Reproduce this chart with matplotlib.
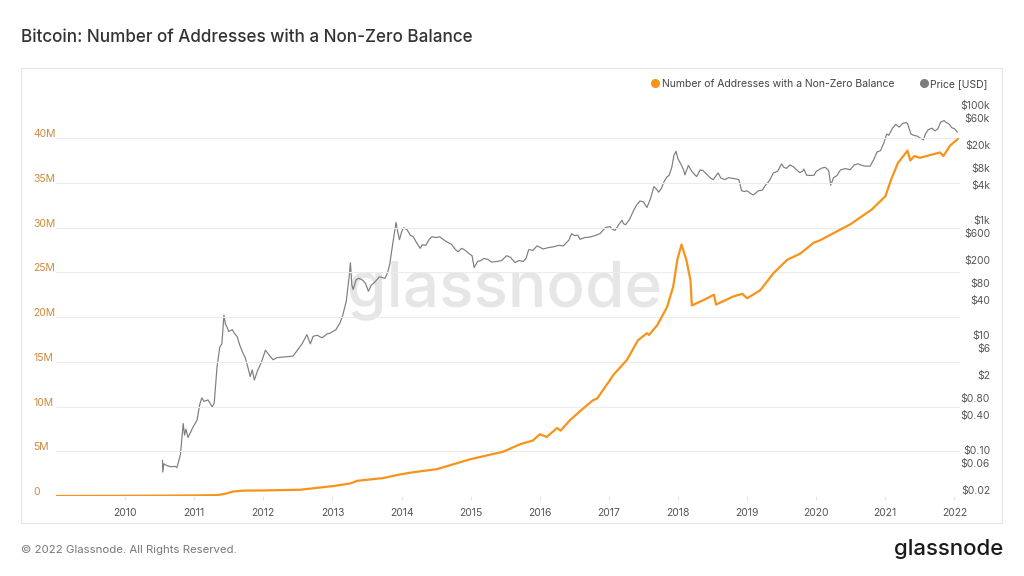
import matplotlib
matplotlib.use("Agg")
import matplotlib.pyplot as plt
from matplotlib.lines import Line2D
from matplotlib.patches import Rectangle
from matplotlib.transforms import ScaledTranslation

plt.rcParams['font.family'] = ['Inter', 'DejaVu Sans']

# Non-zero balance addresses (millions), decimal years
addr_years = [2009.0, 2009.5, 2010.0, 2010.5, 2011.0, 2011.33, 2011.45, 2011.56, 2011.71,
              2012.0, 2012.53, 2013.0, 2013.26, 2013.36, 2013.73, 2013.94, 2014.12,
              2014.51, 2014.99, 2015.47, 2015.72, 2015.9, 2016.0, 2016.1, 2016.25,
              2016.3, 2016.44, 2016.63, 2016.77, 2016.83, 2017.02, 2017.06, 2017.26,
              2017.42, 2017.55, 2017.58, 2017.70, 2017.84, 2017.93, 2017.99, 2018.05,
              2018.12, 2018.18, 2018.2, 2018.37, 2018.52, 2018.55, 2018.80, 2018.93,
              2019.0, 2019.19, 2019.38, 2019.58, 2019.77, 2019.96, 2020.06, 2020.5,
              2020.8, 2021.0, 2021.08, 2021.18, 2021.32, 2021.36, 2021.42, 2021.5,
              2021.79, 2021.84, 2021.94, 2022.05]
addr_millions = [0.0, 0.01, 0.02, 0.04, 0.06, 0.1, 0.25, 0.5, 0.6,
                 0.62, 0.7, 1.1, 1.4, 1.7, 2.0, 2.35, 2.6,
                 3.0, 4.1, 4.95, 5.8, 6.2, 6.9, 6.6, 7.6,
                 7.3, 8.5, 9.8, 10.7, 10.9, 13.0, 13.5, 15.2,
                 17.4, 18.2, 18.0, 19.1, 21.1, 23.4, 26.4, 28.1,
                 26.4, 24.1, 21.3, 21.9, 22.5, 21.4, 22.3, 22.6,
                 22.1, 23.0, 24.9, 26.4, 27.1, 28.3, 28.6, 30.4,
                 32.0, 33.5, 35.3, 37.2, 38.6, 37.5, 38.0, 37.8,
                 38.4, 38.0, 39.2, 39.9]

# Bitcoin price (USD), decimal years
price_years = [
    2010.54, 2010.545, 2010.56, 2010.6, 2010.66, 2010.72, 2010.75, 2010.8, 2010.84, 2010.86,
    2010.88, 2010.91, 2010.95, 2010.98, 2011.04, 2011.08, 2011.11, 2011.14, 2011.2, 2011.26,
    2011.29, 2011.33, 2011.35, 2011.37, 2011.4, 2011.43, 2011.45, 2011.47, 2011.5, 2011.55,
    2011.58, 2011.62, 2011.66, 2011.71, 2011.74, 2011.78, 2011.81, 2011.84, 2011.87, 2011.92,
    2011.97, 2012.03, 2012.08, 2012.14, 2012.2, 2012.28, 2012.35, 2012.43, 2012.5, 2012.56,
    2012.63, 2012.68, 2012.72, 2012.78, 2012.85, 2012.92, 2012.97, 2013.05, 2013.11, 2013.15,
    2013.2, 2013.24, 2013.26, 2013.28, 2013.3, 2013.34, 2013.38, 2013.44, 2013.48, 2013.52,
    2013.56, 2013.62, 2013.68, 2013.76, 2013.8, 2013.83, 2013.87, 2013.92, 2013.94, 2013.97,
    2014.0, 2014.03, 2014.08, 2014.13, 2014.17, 2014.22, 2014.27, 2014.3, 2014.35, 2014.4,
    2014.44, 2014.5, 2014.55, 2014.6, 2014.66, 2014.72, 2014.78, 2014.82, 2014.87, 2014.92,
    2014.97, 2015.02, 2015.05, 2015.1, 2015.15, 2015.19, 2015.25, 2015.3, 2015.38, 2015.45,
    2015.52, 2015.58, 2015.64, 2015.7, 2015.76, 2015.8, 2015.84, 2015.9, 2015.96, 2016.05,
    2016.12, 2016.2, 2016.28, 2016.34, 2016.42, 2016.46, 2016.5, 2016.55, 2016.58, 2016.65,
    2016.72, 2016.8, 2016.87, 2016.95, 2017.02, 2017.04, 2017.09, 2017.14, 2017.19, 2017.21,
    2017.24, 2017.3, 2017.36, 2017.4, 2017.45, 2017.5, 2017.55, 2017.6, 2017.65, 2017.68,
    2017.72, 2017.76, 2017.8, 2017.84, 2017.87, 2017.91, 2017.94, 2017.97, 2018.0, 2018.04,
    2018.08, 2018.1, 2018.15, 2018.2, 2018.24, 2018.27, 2018.32, 2018.36, 2018.42, 2018.47,
    2018.51, 2018.58, 2018.62, 2018.68, 2018.73, 2018.8, 2018.88, 2018.92, 2018.96, 2019.0,
    2019.05, 2019.09, 2019.16, 2019.22, 2019.26, 2019.32, 2019.38, 2019.44, 2019.5, 2019.53,
    2019.57, 2019.62, 2019.67, 2019.72, 2019.76, 2019.8, 2019.82, 2019.86, 2019.92, 2019.97,
    2020.0, 2020.08, 2020.13, 2020.18, 2020.21, 2020.25, 2020.3, 2020.35, 2020.42, 2020.49,
    2020.55, 2020.6, 2020.64, 2020.7, 2020.78, 2020.83, 2020.88, 2020.93, 2020.98, 2021.02,
    2021.05, 2021.1, 2021.15, 2021.2, 2021.25, 2021.3, 2021.32, 2021.37, 2021.41, 2021.46,
    2021.51, 2021.55, 2021.58, 2021.62, 2021.67, 2021.72, 2021.76, 2021.8, 2021.85, 2021.88,
    2021.92, 2021.96, 2022.0, 2022.04]
price_usd = [
    0.08, 0.05, 0.07, 0.065, 0.062, 0.063, 0.06, 0.10, 0.35, 0.22,
    0.28, 0.20, 0.25, 0.30, 0.40, 0.75, 0.98, 0.85, 0.90, 0.68,
    0.80, 3.4, 5.0, 7.5, 8.5, 27.0, 19.0, 17.0, 14.0, 15.0,
    13.0, 11.4, 8.0, 5.7, 4.8, 3.2, 2.3, 3.0, 2.0, 3.0,
    4.0, 6.6, 5.5, 4.5, 4.9, 5.0, 5.1, 5.2, 6.8, 8.5,
    12.3, 8.5, 11.5, 12.0, 10.8, 12.6, 13.1, 15.0, 19.7, 27.0,
    47.0, 120.0, 219.0, 90.0, 75.0, 110.0, 118.0, 108.0, 95.0, 70.0,
    88.0, 103.0, 125.0, 117.0, 150.0, 210.0, 450.0, 1100.0, 800.0, 550.0,
    750.0, 890.0, 820.0, 650.0, 620.0, 480.0, 390.0, 450.0, 440.0, 560.0,
    620.0, 600.0, 620.0, 560.0, 500.0, 460.0, 370.0, 340.0, 390.0, 360.0,
    320.0, 290.0, 180.0, 230.0, 240.0, 260.0, 250.0, 225.0, 230.0, 240.0,
    290.0, 270.0, 220.0, 240.0, 230.0, 260.0, 370.0, 360.0, 430.0, 380.0,
    400.0, 415.0, 440.0, 430.0, 540.0, 700.0, 650.0, 660.0, 560.0, 600.0,
    610.0, 650.0, 700.0, 900.0, 930.0, 850.0, 800.0, 1000.0, 1200.0, 1050.0,
    1000.0, 1250.0, 1800.0, 2200.0, 2600.0, 2500.0, 2000.0, 2800.0, 4600.0, 4300.0,
    3700.0, 4300.0, 5700.0, 6800.0, 7200.0, 10000.0, 16000.0, 19000.0, 14000.0, 11500.0,
    9000.0, 7400.0, 10800.0, 8500.0, 7500.0, 6900.0, 9000.0, 8800.0, 7500.0, 6500.0,
    6100.0, 8000.0, 6500.0, 6100.0, 6600.0, 6400.0, 6100.0, 3900.0, 3800.0, 3900.0,
    3500.0, 3300.0, 3900.0, 4000.0, 4800.0, 5800.0, 8000.0, 8500.0, 11500.0, 10000.0,
    9600.0, 11000.0, 10200.0, 9000.0, 8100.0, 8500.0, 9300.0, 7300.0, 7200.0, 7300.0,
    8500.0, 9700.0, 10000.0, 8800.0, 4900.0, 6600.0, 7200.0, 9000.0, 9500.0, 9100.0,
    11000.0, 11500.0, 11000.0, 10500.0, 10500.0, 13500.0, 18500.0, 19500.0, 27000.0, 38000.0,
    36000.0, 47000.0, 56000.0, 50000.0, 58000.0, 60000.0, 58000.0, 38000.0, 36000.0, 35000.0,
    32000.0, 30000.0, 38000.0, 45000.0, 48000.0, 43000.0, 47000.0, 61000.0, 65000.0, 60000.0,
    57000.0, 49000.0, 47000.0, 41000.0]

year_ticks = list(range(2010, 2023))
addr_ticks = [0, 5, 10, 15, 20, 25, 30, 35, 40]
addr_tick_labels = ['0', '5M', '10M', '15M', '20M', '25M', '30M', '35M', '40M']
price_ticks = [0.02, 0.06, 0.1, 0.4, 0.8, 2, 6, 10, 40, 80, 200, 600, 1000,
               4000, 8000, 20000, 60000, 100000]
price_tick_labels = ['$0.02', '$0.06', '$0.10', '$0.40', '$0.80', '$2', '$6', '$10',
                     '$40', '$80', '$200', '$600', '$1k', '$4k', '$8k', '$20k',
                     '$60k', '$100k']

ORANGE = '#f7931a'
GRAY = '#7d7d7d'

fig = plt.figure(figsize=(10.24, 5.76), dpi=100)
ax = fig.add_axes([56/1024, 1 - 496/576, (960 - 56)/1024, (496 - 93.4)/576])
ax2 = ax.twinx()

# orange on top of the price line
ax.set_zorder(ax2.get_zorder() + 1)
ax.patch.set_visible(False)
ax2.patch.set_visible(False)

ax.plot(addr_years, addr_millions, color=ORANGE, lw=1.6, solid_capstyle='round')
ax2.plot(price_years, price_usd, color=GRAY, lw=0.85)

ax.set_xlim(2009.0, 2022.08)
ax.set_ylim(0, 45)
ax2.set_yscale('log')
ax2.set_ylim(0.0192, 193000)

ax.set_yticks(addr_ticks)
ax.set_yticklabels(addr_tick_labels)
ax2.set_yticks(price_ticks)
ax2.set_yticklabels(price_tick_labels)
ax2.yaxis.set_minor_locator(plt.NullLocator())
ax.set_xticks(year_ticks)
ax.set_xticklabels([str(y) for y in year_ticks])

ax.grid(axis='y', color='#ececec', lw=0.8)
ax.set_axisbelow(True)
for a in (ax, ax2):
    for s in a.spines.values():
        s.set_visible(False)

ax.tick_params(axis='y', length=0, pad=16.5, labelsize=7.5, labelcolor='#cc8a3d')
ax.tick_params(axis='x', length=3, color='#e6e6e6', pad=6, labelsize=7.5, labelcolor='#555555')
ax2.tick_params(axis='y', length=0, pad=21.6, labelsize=7.5, labelcolor='#555555')

# labels sit a few pixels above their values
shift = ScaledTranslation(0, 5/100, fig.dpi_scale_trans)
for lbl in ax.get_yticklabels():
    lbl.set_ha('left')
    lbl.set_transform(lbl.get_transform() + shift)
for lbl in ax2.get_yticklabels():
    lbl.set_ha('right')
    lbl.set_transform(lbl.get_transform() + shift)

# watermark
fig.text(505/1024, 1 - 290/576, 'glassnode', fontsize=46, color='#e6e6e6',
         ha='center', va='center', fontweight='medium', zorder=-1)

# frame around the chart area
fig.patches.append(Rectangle((21/1024, 1 - 523/576), (1002 - 21)/1024, (523 - 68)/576,
                             transform=fig.transFigure, fill=False,
                             edgecolor='#e6e6e6', lw=0.8))

handles = [Line2D([], [], ls='none', marker='o', ms=5.5, color=ORANGE),
           Line2D([], [], ls='none', marker='o', ms=5.5, color=GRAY)]
fig.legend(handles, ['Number of Addresses with a Non-Zero Balance', 'Price [USD]'],
           loc='center right', bbox_to_anchor=(992/1024, 1 - 84/576), ncol=2,
           frameon=False, fontsize=7.5, handletextpad=0.15, columnspacing=2.3,
           handlelength=1.0, labelcolor='#444444', borderaxespad=0)

fig.text(21/1024, 1 - 37/576, 'Bitcoin: Number of Addresses with a Non-Zero Balance',
         fontsize=12.3, color='#333333', va='center', ha='left', fontweight='medium')
fig.text(21/1024, 1 - 550/576, '\u00a9 2022 Glassnode. All Rights Reserved.',
         fontsize=8.2, color='#777777', va='center', ha='left')
fig.text(1003/1024, 1 - 549/576, 'glassnode', fontsize=16, color='#1a1a1a',
         va='center', ha='right', fontweight='medium')

fig.savefig('out.png', dpi=100)
